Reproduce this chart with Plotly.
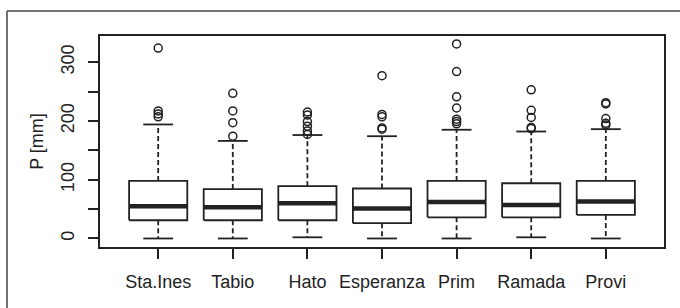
import plotly.graph_objects as go

categories = ["Sta.Ines", "Tabio", "Hato", "Esperanza", "Prim", "Ramada", "Provi"]
lower_whisker = [0, 0, 2, 0, 0, 2, 0]
q1 = [31, 31, 31, 26, 36, 36, 40]
median = [55, 53, 60, 51, 62, 57, 63]
q3 = [98, 84, 89, 85, 98, 94, 98]
upper_whisker = [194, 166, 176, 174, 185, 182, 186]
outliers = [
    [324, 217, 212, 207],
    [247, 217, 197, 174],
    [215, 210, 199, 191, 183, 177],
    [277, 211, 207, 188, 186],
    [331, 284, 241, 222, 203, 199, 195],
    [253, 218, 206, 189, 187],
    [231, 229, 204, 196, 193],
]
y_tick_vals = [0, 50, 100, 150, 200, 250, 300]
y_tick_text = ["0", "", "100", "", "200", "", "300"]

LC = "#222222"
half_box = 0.39
half_cap = 0.2

xs = list(range(1, len(categories) + 1))

box_x, box_y = [], []
med_x, med_y = [], []
wh_x, wh_y = [], []
cap_x, cap_y = [], []
out_x, out_y = [], []
for i, x in enumerate(xs):
    box_x += [x - half_box, x + half_box, x + half_box, x - half_box, x - half_box, None]
    box_y += [q1[i], q1[i], q3[i], q3[i], q1[i], None]
    med_x += [x - half_box, x + half_box, None]
    med_y += [median[i], median[i], None]
    wh_x += [x, x, None, x, x, None]
    wh_y += [q3[i], upper_whisker[i], None, q1[i], lower_whisker[i], None]
    cap_x += [x - half_cap, x + half_cap, None, x - half_cap, x + half_cap, None]
    cap_y += [upper_whisker[i], upper_whisker[i], None, lower_whisker[i], lower_whisker[i], None]
    for v in outliers[i]:
        out_x.append(x)
        out_y.append(v)

fig = go.Figure()
fig.add_trace(go.Scatter(x=wh_x, y=wh_y, mode="lines",
                         line=dict(color=LC, width=1.8, dash="5px,3px"), hoverinfo="skip"))
fig.add_trace(go.Scatter(x=cap_x, y=cap_y, mode="lines",
                         line=dict(color=LC, width=1.8), hoverinfo="skip"))
fig.add_trace(go.Scatter(x=box_x, y=box_y, mode="lines",
                         line=dict(color=LC, width=1.8), hoverinfo="skip"))
fig.add_trace(go.Scatter(x=med_x, y=med_y, mode="lines",
                         line=dict(color=LC, width=4.5), hoverinfo="skip"))
fig.add_trace(go.Scatter(x=out_x, y=out_y, mode="markers",
                         marker=dict(symbol="circle-open", size=8, color=LC,
                                     line=dict(width=1.5, color=LC)),
                         hoverinfo="skip"))

font = dict(family="Liberation Sans, Arial, sans-serif", size=18, color=LC)

fx0 = (7 - 100) / 564
fx1 = (680 - 100) / 564
fy1 = (247 - 11) / 211
fy0 = (247 - 308) / 211

fig.update_layout(
    width=680, height=308,
    margin=dict(l=100, r=16, t=36, b=61, autoexpand=False),
    paper_bgcolor="white", plot_bgcolor="white",
    showlegend=False,
    font=font,
    xaxis=dict(
        range=[0.22, 7.78], tickvals=xs, ticktext=categories,
        showgrid=False, zeroline=False,
        showline=True, linecolor=LC, linewidth=1.8, mirror=True,
        ticks="outside", ticklen=10, tickwidth=1.8, tickcolor=LC,
        ticklabelstandoff=7,
        tickfont=font,
    ),
    yaxis=dict(
        range=[-14.5, 344.5], tickvals=y_tick_vals, ticktext=y_tick_text,
        showgrid=False, zeroline=False,
        showline=True, linecolor=LC, linewidth=1.8, mirror=True,
        ticks="outside", ticklen=10, tickwidth=1.8, tickcolor=LC,
        tickangle=-90, ticklabelstandoff=7,
        tickfont=font,
        title=dict(text="P [mm]", font=font, standoff=10),
    ),
    shapes=[
        dict(type="line", xref="paper", yref="paper",
             x0=fx0, x1=fx1, y0=fy1, y1=fy1,
             line=dict(color="#444444", width=1.5)),
        dict(type="line", xref="paper", yref="paper",
             x0=fx0, x1=fx0, y0=fy0, y1=fy1,
             line=dict(color="#444444", width=1.5)),
    ],
)

fig.write_html("out.html", config={"displayModeBar": False},
               post_script="document.body.style.margin='0';document.body.style.overflow='hidden';")
